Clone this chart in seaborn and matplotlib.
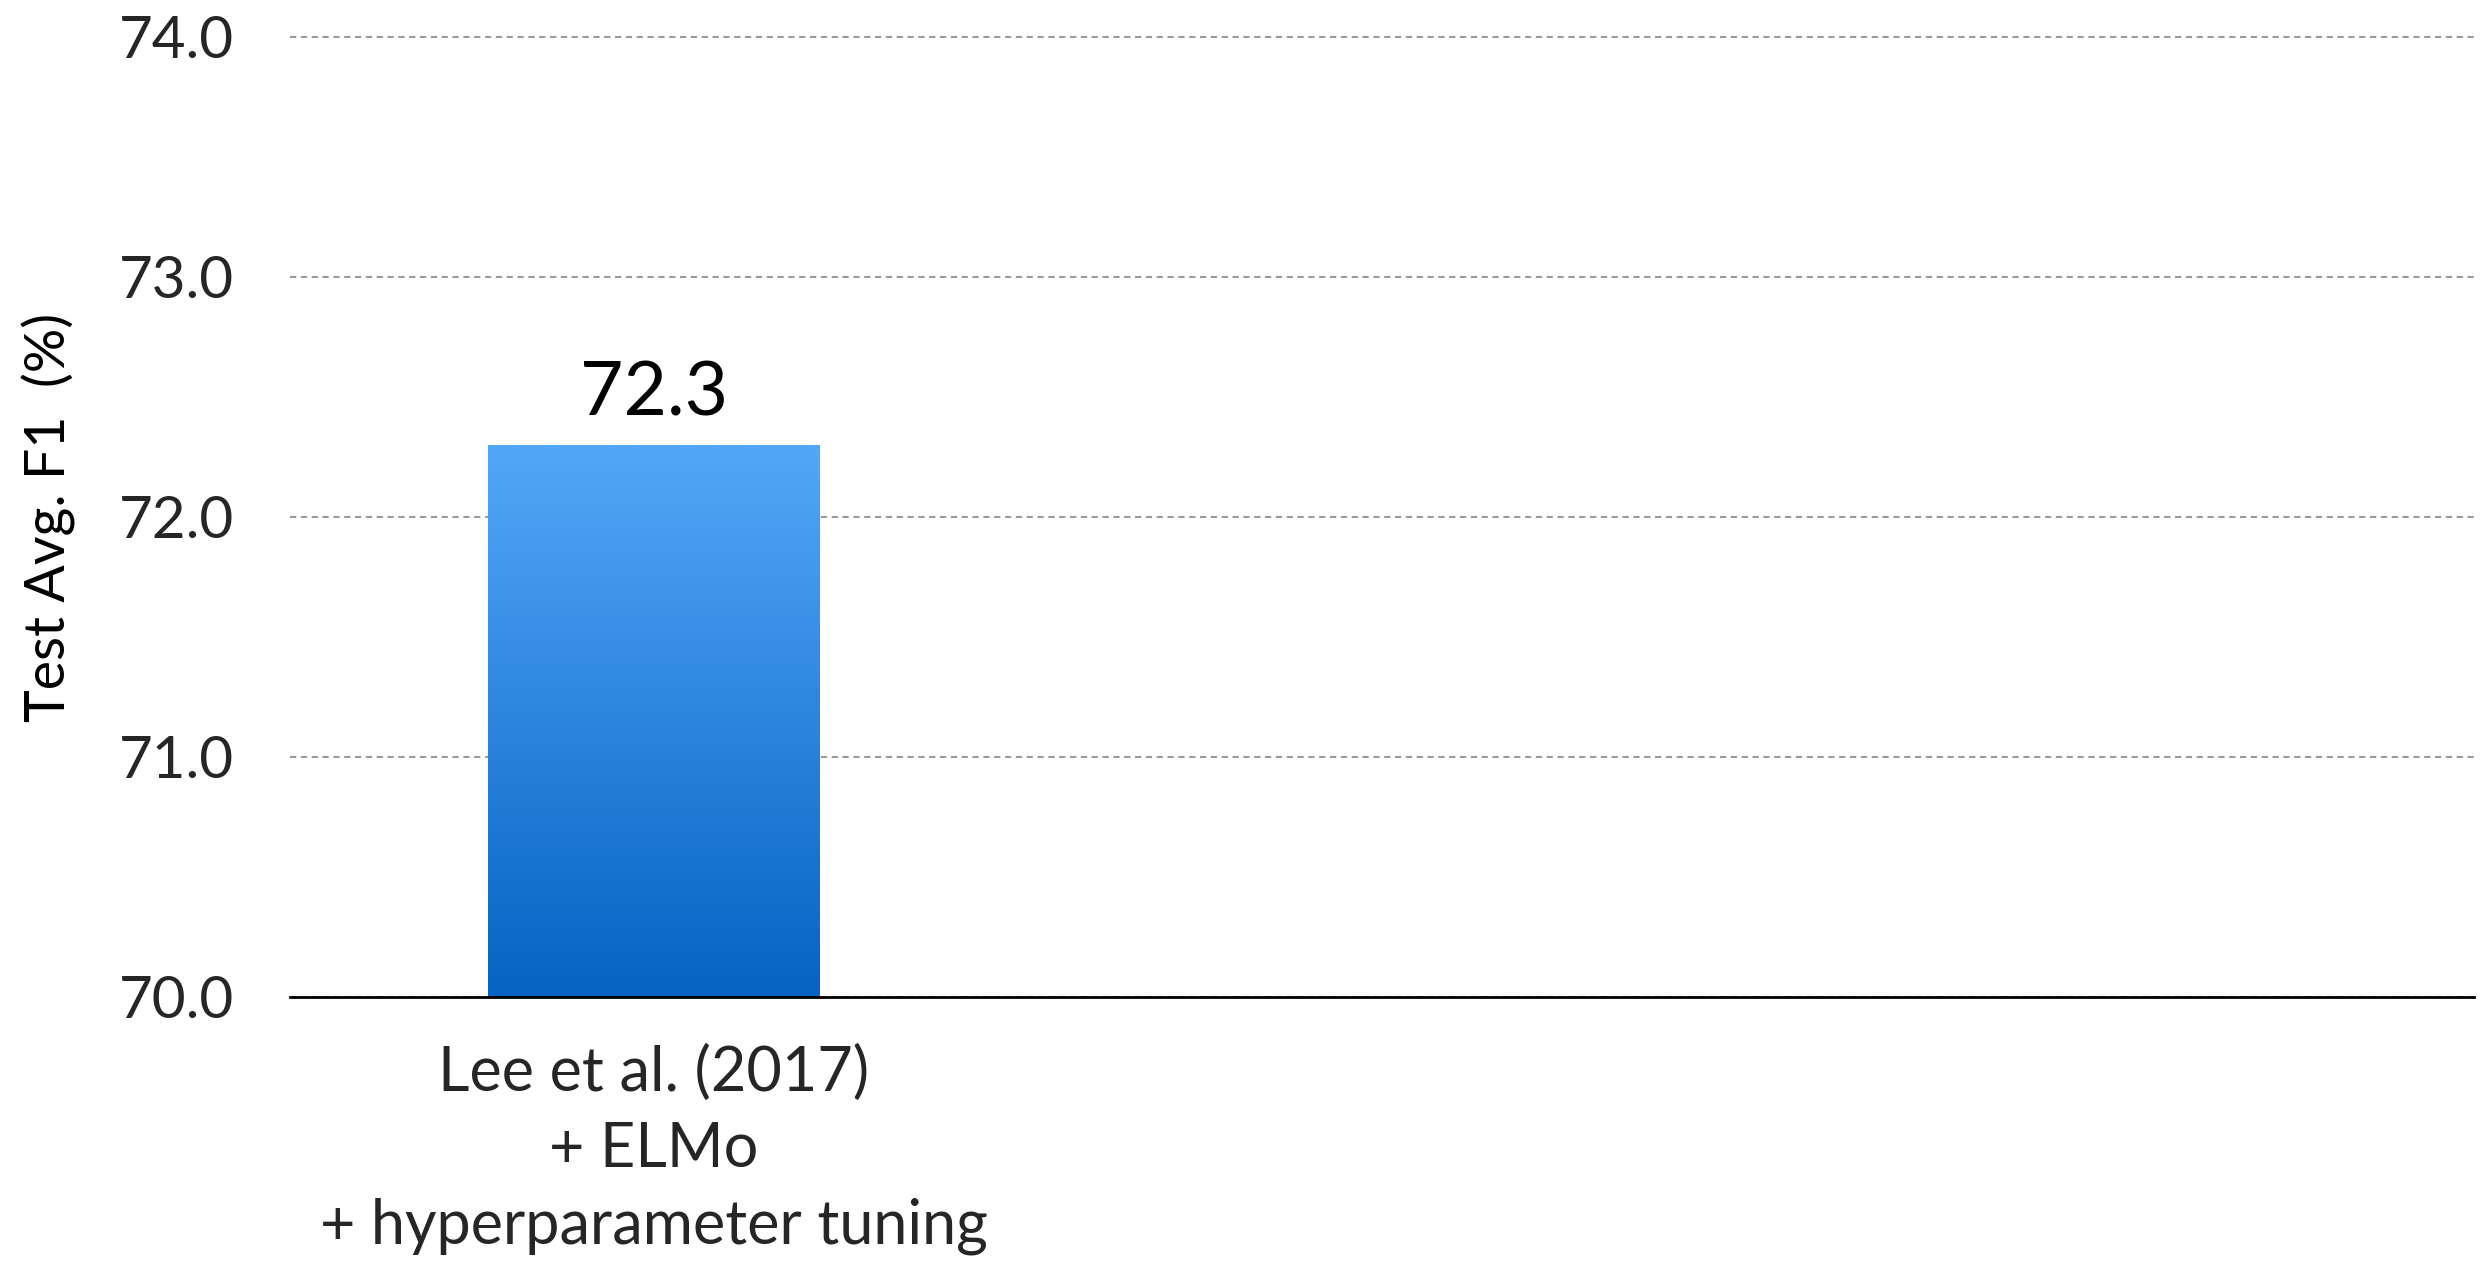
import numpy as np
import pandas as pd
import matplotlib
matplotlib.use("Agg")
import matplotlib.pyplot as plt
from matplotlib.colors import LinearSegmentedColormap
import seaborn as sns

# ---- data ----
categories = ["Lee et al. (2017)\n+ ELMo\n+ hyperparameter tuning", " ", "  "]
values = [72.3, np.nan, np.nan]
bar_labels = ["72.3", "", ""]
y_ticks = [70.0, 71.0, 72.0, 73.0, 74.0]
y_label = "Test Avg. F1  (%)"

sns.set_theme(style="white")
plt.rcParams['font.family'] = ['Lato', 'DejaVu Sans']

df = pd.DataFrame({"cat": categories, "val": values})

fig = plt.figure(figsize=(24.87, 12.64), dpi=100)
ax = fig.add_axes([290/2487, 267/1264, 2184/2487, 960/1264])

sns.barplot(data=df, x="cat", y="val", order=categories, color="#3a8fe6",
            width=0.456, ax=ax, zorder=2)

ymin, ymax = 70, 74
ax.set_ylim(ymin, ymax)
ax.set_yticks(y_ticks)
ax.set_yticklabels([f"{v:.1f}" for v in y_ticks])
ax.tick_params(axis="y", labelsize=42, pad=40, length=0)
ax.tick_params(axis="x", labelsize=44, pad=34, length=0)
for t in ax.get_xticklabels():
    t.set_linespacing(1.42)
    t.set_ha("center")

# gradient fill for bars
cmap = LinearSegmentedColormap.from_list("grad", ["#0663C3", "#52A7F8"])
grad = np.linspace(0, 1, 256).reshape(-1, 1)
for p in list(ax.patches):
    h = p.get_height()
    if not np.isfinite(h) or h == 0:
        continue
    x0 = p.get_x(); w = p.get_width()
    p.set_visible(False)
    ax.imshow(grad, extent=[x0, x0 + w, ymin, p.get_y() + h], origin="lower",
              cmap=cmap, aspect="auto", zorder=2, interpolation="bilinear")
ax.set_xlim(-0.5, len(categories) - 0.5)
ax.set_ylim(ymin, ymax)

# value labels
for i, (v, lab) in enumerate(zip(values, bar_labels)):
    if lab:
        ax.text(i, v + 0.07, lab, ha="center", va="bottom", fontsize=54, color="black")

# grid
ax.yaxis.grid(True, color="#9a9a9a", linestyle=(0, (3.0, 2.2)), linewidth=1.5)
for gl in ax.get_ygridlines():
    gl.set_clip_on(False)
ax.set_axisbelow(True)

for s in ["top", "right", "left"]:
    ax.spines[s].set_visible(False)
ax.spines["bottom"].set_color("black")
ax.spines["bottom"].set_linewidth(2)
ax.spines["bottom"].set_zorder(5)

ax.set_xlabel("")
ax.set_ylabel(y_label, fontsize=40, color="black")
ax.yaxis.set_label_coords((76 - 290) / 2184, 0.5)

fig.savefig("out.png", dpi=100, facecolor="white")
